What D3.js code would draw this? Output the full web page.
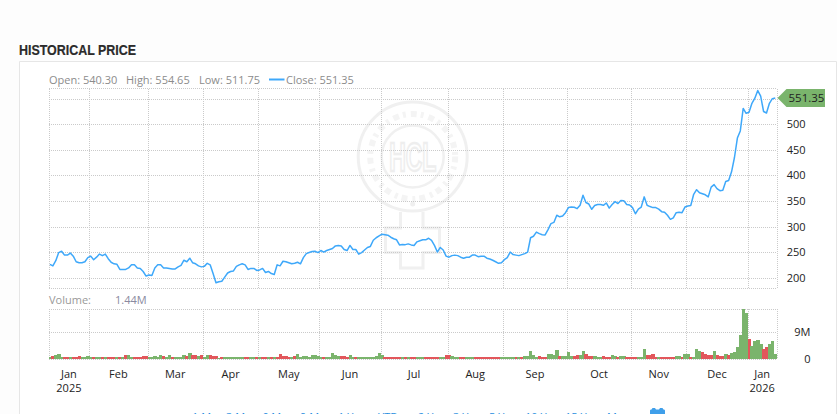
<!DOCTYPE html>
<html><head><meta charset="utf-8">
<script src="https://cdn.jsdelivr.net/npm/d3@7"></script>
<style>
html,body{margin:0;padding:0;background:#fdfdfd;overflow:hidden}
svg{display:block}
text{font-family:"Open Sans",sans-serif;font-size:11px}
.grid line{stroke:#cacaca;stroke-dasharray:1 1;shape-rendering:crispEdges}
.ax path,.ax line{display:none}
.ax text{fill:#222;font-size:11px}
</style></head><body>
<svg id="c" width="837" height="414"></svg>
<script>
const closeValues=[226,223,233,249,251.5,244,244,248,242,231,229,229,231,239,242,235,240,246,243,246,237,230,227,226,216,216,216,219,225,225,219,218,212,203,205,204,219,225,225,219,219,218,217,217,221,224,234,231,238,229,227,223,221,222,228,225,208,190,192,193,201,209,212,213,222,225,227,225,216,218,218,214,215,218,210,212,208,206,225,223,232,231,229,227,228,230,
227,239,247,249,251,251.5,249,253,250,253,255,257,262,263,262,255,253,263,255,255,246,249,254,259,261,273,278,281.5,285,284,283,279,276,274,264,265,264.5,266,264,263,270,272,274,274,277,273,263,250,259,254,242,240,243,244,243,240,238,240,240,244,244,241,242,242,238,236.5,234,231,228,229,235,239,250,245,244,243,245,247,250,278,281,289,286,
284,283.5,294,305.6,308,322,319,320.6,327,337,338,337.6,335,341.5,361,347,344,333.7,341,343,343,341.5,346,336,343,348.7,345,351,350.6,343,342,337,325,334,338,358,341.5,339,337,337,334,329,328,322,314,317,327,328,327,338,340,341,363,372,366,364,362,358,377,382,374,370,371,388,390,407,
435,473,487,531,521.5,523.5,541,551,566,555,525,522,541,550,551.35];
const volumeValues=[
.7,1,1.2,1.6,.8,.8,.8,.7,.7,.8,
1,.7,.7,1,.7,.7,.7,.7,.7,.7,
.7,.7,.7,.7,.8,.7,1.5,1.5,.7,.7,
.7,.7,1,1,.7,.7,1,.8,1.4,1,
.7,1.4,.7,.7,.7,.7,1.4,1,1.9,1.4,
1.2,1,1.4,.7,1.2,1.3,1,1,.5,.7,
.6,.6,.6,.6,.6,.6,.6,.6,.6,.6,
.6,.6,.6,.6,.6,.6,.7,.7,.7,1.8,
1.1,1.1,.7,.7,1,1.6,.7,1,1,.8,
1.4,1.3,.9,.7,.7,.7,.7,1.9,1.3,1,
1,1,.7,1.2,.7,.7,.7,.6,.6,.6,
.6,.6,1,1.9,1.3,.7,.7,.7,.7,.7,
.7,.7,.7,.7,.7,.7,.7,.7,.7,.7,
.7,.7,.7,.7,.7,.7,1.2,1.2,.9,.7,
.7,.7,.7,.7,.7,.7,.7,.7,.7,.7,
.7,.7,.7,.7,.7,.7,.7,.7,.7,.7,
.7,.7,.7,1,1,2.8,1.3,.7,1,.7,
.7,1.7,1.7,1.4,3,1,1,1,2.4,.9,
1,1.3,1.3,2.7,1.7,1.1,1.1,1,.7,.7,
1,.7,.7,1.4,1,.8,1,1,.7,.7,
.7,.7,.7,.7,3.5,1.4,1.4,1.7,.8,.7,
.7,.7,.7,.7,.7,1,1,.7,1.8,1.8,
.8,.7,3.4,2.7,2.5,1.7,1.4,1.4,2.8,1.4,
1.1,1.1,1.8,1.4,2.1,2.4,4,8.1,17.1,15.7,
6.8,4.5,6.2,6.5,5,3.5,3.9,5,6,1.7];
const volumeDirections=
"GRGGGRRGRR"+"RGGGGRGGRG"+"RRRGRGRGGR"+"RRRRGGGGGR"+"GGRGGGGRGR"+"RGRGGRRRGR"+"GGGGGGGRRG"+"GRGRRGRGRR"+"RRR"+
"GRGGGGG"+"GGGGRGGGGG"+"RRRGGRGGGG"+"GGGGGRRRRR"+"RGRGRRGGGR"+"RRRRGGRRGG"+"GRRGGGRRRR"+"RRRRRGGGGG"+"RGRGG"+
"GGGRR"+"RGGGGRGGGG"+"RRGGRRRGGG"+"RRRGGRGGRR"+"RRGGGRRRRG"+"RRRRRGGRGG"+"RGGGRRRRGR"+"RRGRGGGGGG"+"RGGGGRRGGG";
const monthStarts=[0,14,34,53,72,93,114,137,156,178,200,219,240];
const monthLabels=["Jan","Feb","Mar","Apr","May","Jun","Jul","Aug","Sep","Oct","Nov","Dec","Jan"];
const yearLabels={0:"2025",12:"2026"};
const priceTicks=[200,250,300,350,400,450,500,550];
const priceLabels=[200,250,300,350,400,450,500];
const volumeTicks=[0,9];
const legendItems=[["Open: 540.30",49],["High: 554.65",126],["Low: 511.75",199],["Close: 551.35",286]];
const rangeLinks=[["1 Mon",192],["3 Mon",226],["6 Mon",262],["9 Mon",300],["1 Yr",338],["YTD",378],["2 Yr",418],["3 Yr",453],["5 Yr",489],["10 Yr",525],["15 Yr",565],["Max",607]];

const L=48.5,R=776.7,PT=88.5,PB=288.5,VT=308.5,VB=359;
const svg=d3.select("#c");
const x=d3.scaleBand().domain(d3.range(closeValues.length)).range([L,R]);
const y=d3.scaleLinear().domain([178.7,570]).range([PB,PT]);
const yv=d3.scaleLinear().domain([0,17.1]).range([VB,VT]);
const mx=i=>i>=closeValues.length?R:x(i);

svg.append("path").attr("d","M19.5,414V61.5H836.5V414").attr("fill","#fff").attr("stroke","#e6e6e6");
svg.append("text").attr("transform","translate(19,55) scale(.83,1)").text("HISTORICAL PRICE")
 .style("font-family","'Liberation Sans',sans-serif").style("font-weight","700").style("font-size","15px").attr("fill","#2b2b2b").attr("stroke","#2b2b2b").attr("stroke-width",.2);

// watermark
const wm=svg.append("g").attr("fill","none").attr("stroke","#f0f0f0");
const cx=412.7,cy=156.5;
wm.append("circle").attr("cx",cx).attr("cy",cy).attr("r",54.5).attr("stroke-width",3);
wm.append("circle").attr("cx",cx).attr("cy",cy).attr("r",31).attr("stroke-width",2.5);
wm.append("circle").attr("cx",cx).attr("cy",cy).attr("r",42.5).attr("stroke-width",6).attr("stroke-dasharray","6 4 3 5").attr("stroke","#f4f4f4");
wm.append("circle").attr("cx",cx).attr("cy",204).attr("r",2.5).attr("fill","#efefef").attr("stroke","none");
wm.append("path").attr("stroke-width",3).attr("d","M400.5,212V228H385.5V252.5H400.5V268H423V252.5H439.5V228H423V212");
wm.append("text").attr("text-anchor","middle").attr("transform",`translate(${cx},${cy+14}) scale(.85,1.5)`).text("HCL")
 .style("font-size","27px").style("font-weight","700").style("font-family","'Liberation Sans',sans-serif").attr("fill","#fff").attr("stroke","#eeeeee").attr("stroke-width",1.6);

// grids
const gridX=g=>g.selectAll("line.v").data(monthStarts.slice(1).map(mx).concat([L,R])).join("line").attr("class","v")
 .attr("x1",d=>Math.round(d)+.5).attr("x2",d=>Math.round(d)+.5);
const gp=svg.append("g").attr("class","grid");
gp.call(gridX).selectAll("line.v").attr("y1",PT).attr("y2",PB);
gp.selectAll("line.h").data(priceTicks).join("line").attr("class","h").attr("x1",L).attr("x2",R)
 .attr("y1",d=>Math.round(y(d))+.5).attr("y2",d=>Math.round(y(d))+.5);
[PT,PB].forEach(v=>gp.append("line").attr("x1",L).attr("x2",R).attr("y1",v).attr("y2",v));
const gv=svg.append("g").attr("class","grid");
gv.call(gridX).selectAll("line.v").attr("y1",VT).attr("y2",VB);
gv.selectAll("line.h").data(volumeTicks.concat([17.1])).join("line").attr("class","h").attr("x1",L).attr("x2",R)
 .attr("y1",d=>Math.round(yv(d))+.5).attr("y2",d=>Math.round(yv(d))+.5);

// price line
svg.append("path").datum(closeValues).attr("fill","none").attr("stroke","#3ea8fa").attr("stroke-width",1.5).attr("stroke-linejoin","round")
 .attr("d",d3.line().x((d,i)=>x(i)+x.bandwidth()/2).y(d=>y(d)));

// volume bars
svg.append("g").attr("shape-rendering","crispEdges").selectAll("rect").data(volumeValues).join("rect")
 .attr("x",(d,i)=>x(i)).attr("width",x.bandwidth()+.4).attr("y",d=>yv(d)).attr("height",d=>VB-yv(d))
 .attr("fill",(d,i)=>volumeDirections[i]==="R"?"#e2565b":"#7ab46c");

// legend
svg.append("g").selectAll("text").data(legendItems).join("text").attr("x",d=>d[1]).attr("y",84).attr("fill","#8c8c8c").text(d=>d[0]);
svg.append("line").attr("x1",269).attr("x2",284.5).attr("y1",79.5).attr("y2",79.5).attr("stroke","#3ea8fa").attr("stroke-width",2);
svg.append("text").attr("x",49).attr("y",304).attr("fill","#999").text("Volume:");
svg.append("text").attr("x",115).attr("y",304).attr("fill","#8a8aa0").text("1.44M");

// axes
svg.append("g").attr("class","ax").attr("transform",`translate(805.5,0)`)
 .call(d3.axisLeft(y).tickValues(priceLabels).tickSize(0).tickPadding(0).tickFormat(d3.format("d")));
svg.append("g").attr("class","ax").attr("transform",`translate(810.5,0)`)
 .call(d3.axisLeft(yv).tickValues(volumeTicks).tickSize(0).tickPadding(0).tickFormat(d=>d?d+"M":"0"));
const mid=i=>(mx(monthStarts[i])+mx(i+1<monthStarts.length?monthStarts[i+1]:closeValues.length))/2;
svg.append("g").selectAll("text").data(monthLabels).join("text").attr("text-anchor","middle").attr("fill","#222")
 .attr("x",(d,i)=>mid(i)).attr("y",378).text(d=>d);
svg.append("g").selectAll("text").data(Object.entries(yearLabels)).join("text").attr("text-anchor","middle").attr("fill","#222")
 .attr("x",d=>mid(+d[0])).attr("y",392).text(d=>d[1]);

// current price tag
const ly=y(closeValues[closeValues.length-1]);
svg.append("path").attr("fill","#7ab46c").attr("d",`M777.5,${ly}L786.5,${ly-9}H825V${ly+9}H786.5Z`);
svg.append("text").attr("x",788.5).attr("y",ly+4).attr("fill","#222").style("font-size","11.5px").text("551.35");

// range links (cut by the bottom of the window, as in the reference)
svg.append("g").selectAll("text").data(rangeLinks).join("text").attr("x",d=>d[1]).attr("y",420.5).attr("fill","#2a8fe0").text(d=>d[0]);
svg.append("path").attr("fill","#3f9fea").attr("d","M650,414V410.5Q650,409.5 651.5,409.5L652.5,408H655L656,409.5H659L660,408H662.5L663.5,409.5Q665,409.5 665,410.5V414Z");
</script>
</body></html>
